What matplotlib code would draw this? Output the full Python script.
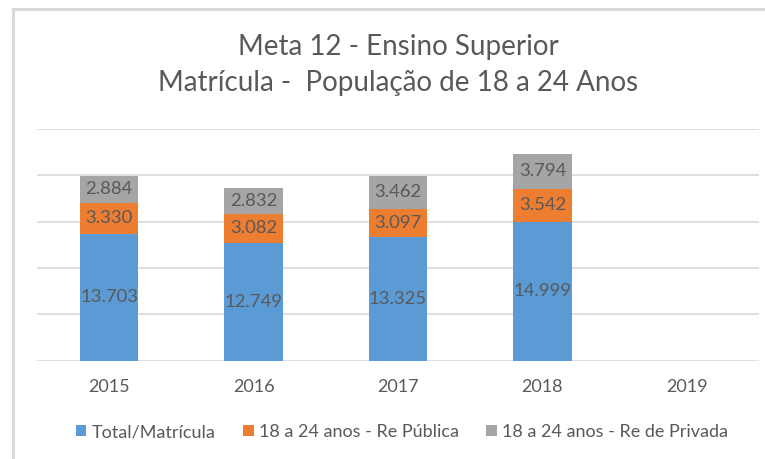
import matplotlib
matplotlib.use("Agg")
import matplotlib.pyplot as plt
from matplotlib.patches import Patch
from matplotlib.lines import Line2D
import numpy as np

plt.rcParams['font.family'] = ['Lato', 'DejaVu Sans']

years = ["2015", "2016", "2017", "2018", "2019"]
total = [13703, 12749, 13325, 14999, np.nan]
publica = [3330, 3082, 3097, 3542, np.nan]
privada = [2884, 2832, 3462, 3794, np.nan]
series_names = ["Total/Matrícula", "18 a 24 anos - Re Pública", "18 a 24 anos - Re de Privada"]
colors = ["#5B9BD5", "#ED7D31", "#A5A5A5"]
txt = "#595959"

W, H = 765, 459
fig = plt.figure(figsize=(W/100, H/100), dpi=100)
ax = fig.add_axes([37/W, 1-360.7/H, (759-37)/W, (360.7-129)/H])

x = np.arange(len(years))
bottom = np.zeros(len(years))
for vals, c in zip([total, publica, privada], colors):
    v = np.array(vals, dtype=float)
    ax.bar(x, np.nan_to_num(v), bottom=bottom, width=0.405, color=c, zorder=2)
    for xi, vi, bi in zip(x, v, bottom):
        if not np.isnan(vi):
            s = f"{int(vi):,}".replace(",", ".")
            ax.text(xi, bi + vi/2, s, ha="center", va="center", fontsize=13.3, color=txt, zorder=3)
    bottom = bottom + np.nan_to_num(v)

ax.set_xlim(-0.5, len(years) - 0.5)
ax.set_ylim(0, 25000)
ax.set_yticks(np.arange(0, 25001, 5000))
ax.yaxis.grid(True, color="#D9D9D9", linewidth=1.2, zorder=0)
ax.tick_params(axis="y", left=False, labelleft=False)
ax.tick_params(axis="x", bottom=False, labelsize=13, labelcolor=txt, pad=10)
ax.set_xticks(x)
ax.set_xticklabels(years)
for s in ax.spines.values():
    s.set_visible(False)

fig.text(398/W, 1-47/H, "Meta 12 - Ensino Superior", ha="center", va="center", fontsize=20, color=txt)
fig.text(398/W, 1-83/H, "Matrícula -  População de 18 a 24 Anos", ha="center", va="center", fontsize=20, color=txt)

handles = [Patch(facecolor=c, edgecolor="none") for c in colors]
fig.legend(handles, series_names, loc="center", bbox_to_anchor=(402/W, 1-432/H), ncol=3, frameon=False,
           fontsize=13, labelcolor=txt, handlelength=0.6, handleheight=0.6, handletextpad=0.3, columnspacing=1.5)

# border (left and top)
fig.add_artist(Line2D([12.5/W, 12.5/W], [0, 1-8.5/H], color="#D9D9D9", linewidth=2.2, transform=fig.transFigure))
fig.add_artist(Line2D([12.5/W, 1], [1-8.5/H, 1-8.5/H], color="#D9D9D9", linewidth=2.2, transform=fig.transFigure))

fig.savefig("out.png", dpi=100)
